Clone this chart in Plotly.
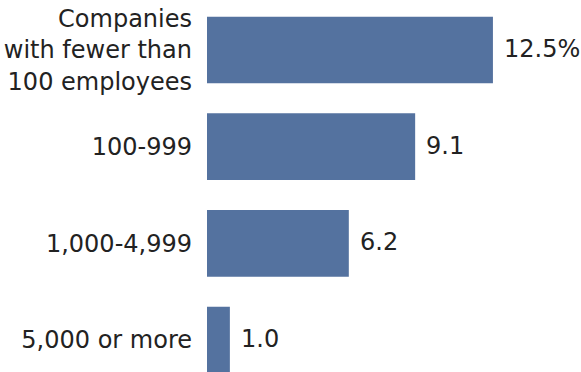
import plotly.graph_objects as go

categories = ["Companies<br>with fewer than<br>100 employees", "100-999", "1,000-4,999", "5,000 or more"]
values = [12.5, 9.1, 6.2, 1.0]
value_labels = ["12.5%", "9.1", "6.2", "1.0"]
positions = [0, 1, 2, 3]

bar_color = "#54729f"
text_color = "#222222"
font_family = "DejaVu Sans"

fig = go.Figure()
fig.add_trace(go.Bar(
    x=values, y=positions, orientation="h",
    marker=dict(color=bar_color, line=dict(width=0)),
    width=0.69, hoverinfo="skip",
))

for v, p, t in zip(values, positions, value_labels):
    fig.add_annotation(x=v, y=p, text=t, showarrow=False, xanchor="left",
                       yanchor="middle", xshift=9, yshift=1,
                       font=dict(family=font_family, size=24, color=text_color))

fig.update_layout(
    width=581, height=372,
    margin=dict(l=207, r=0, t=0, b=0),
    paper_bgcolor="white", plot_bgcolor="white",
    showlegend=False,
    font=dict(family=font_family, size=24, color=text_color),
    xaxis=dict(range=[0, 16.35], visible=False, fixedrange=True),
    yaxis=dict(range=[3.331, -0.517], tickvals=positions, ticktext=categories,
               showgrid=False, zeroline=False, showline=False, ticks="",
               ticklabelstandoff=14, fixedrange=True,
               tickfont=dict(family=font_family, size=24, color=text_color)),
)

fig.write_html("out.html", config={"displayModeBar": False})
